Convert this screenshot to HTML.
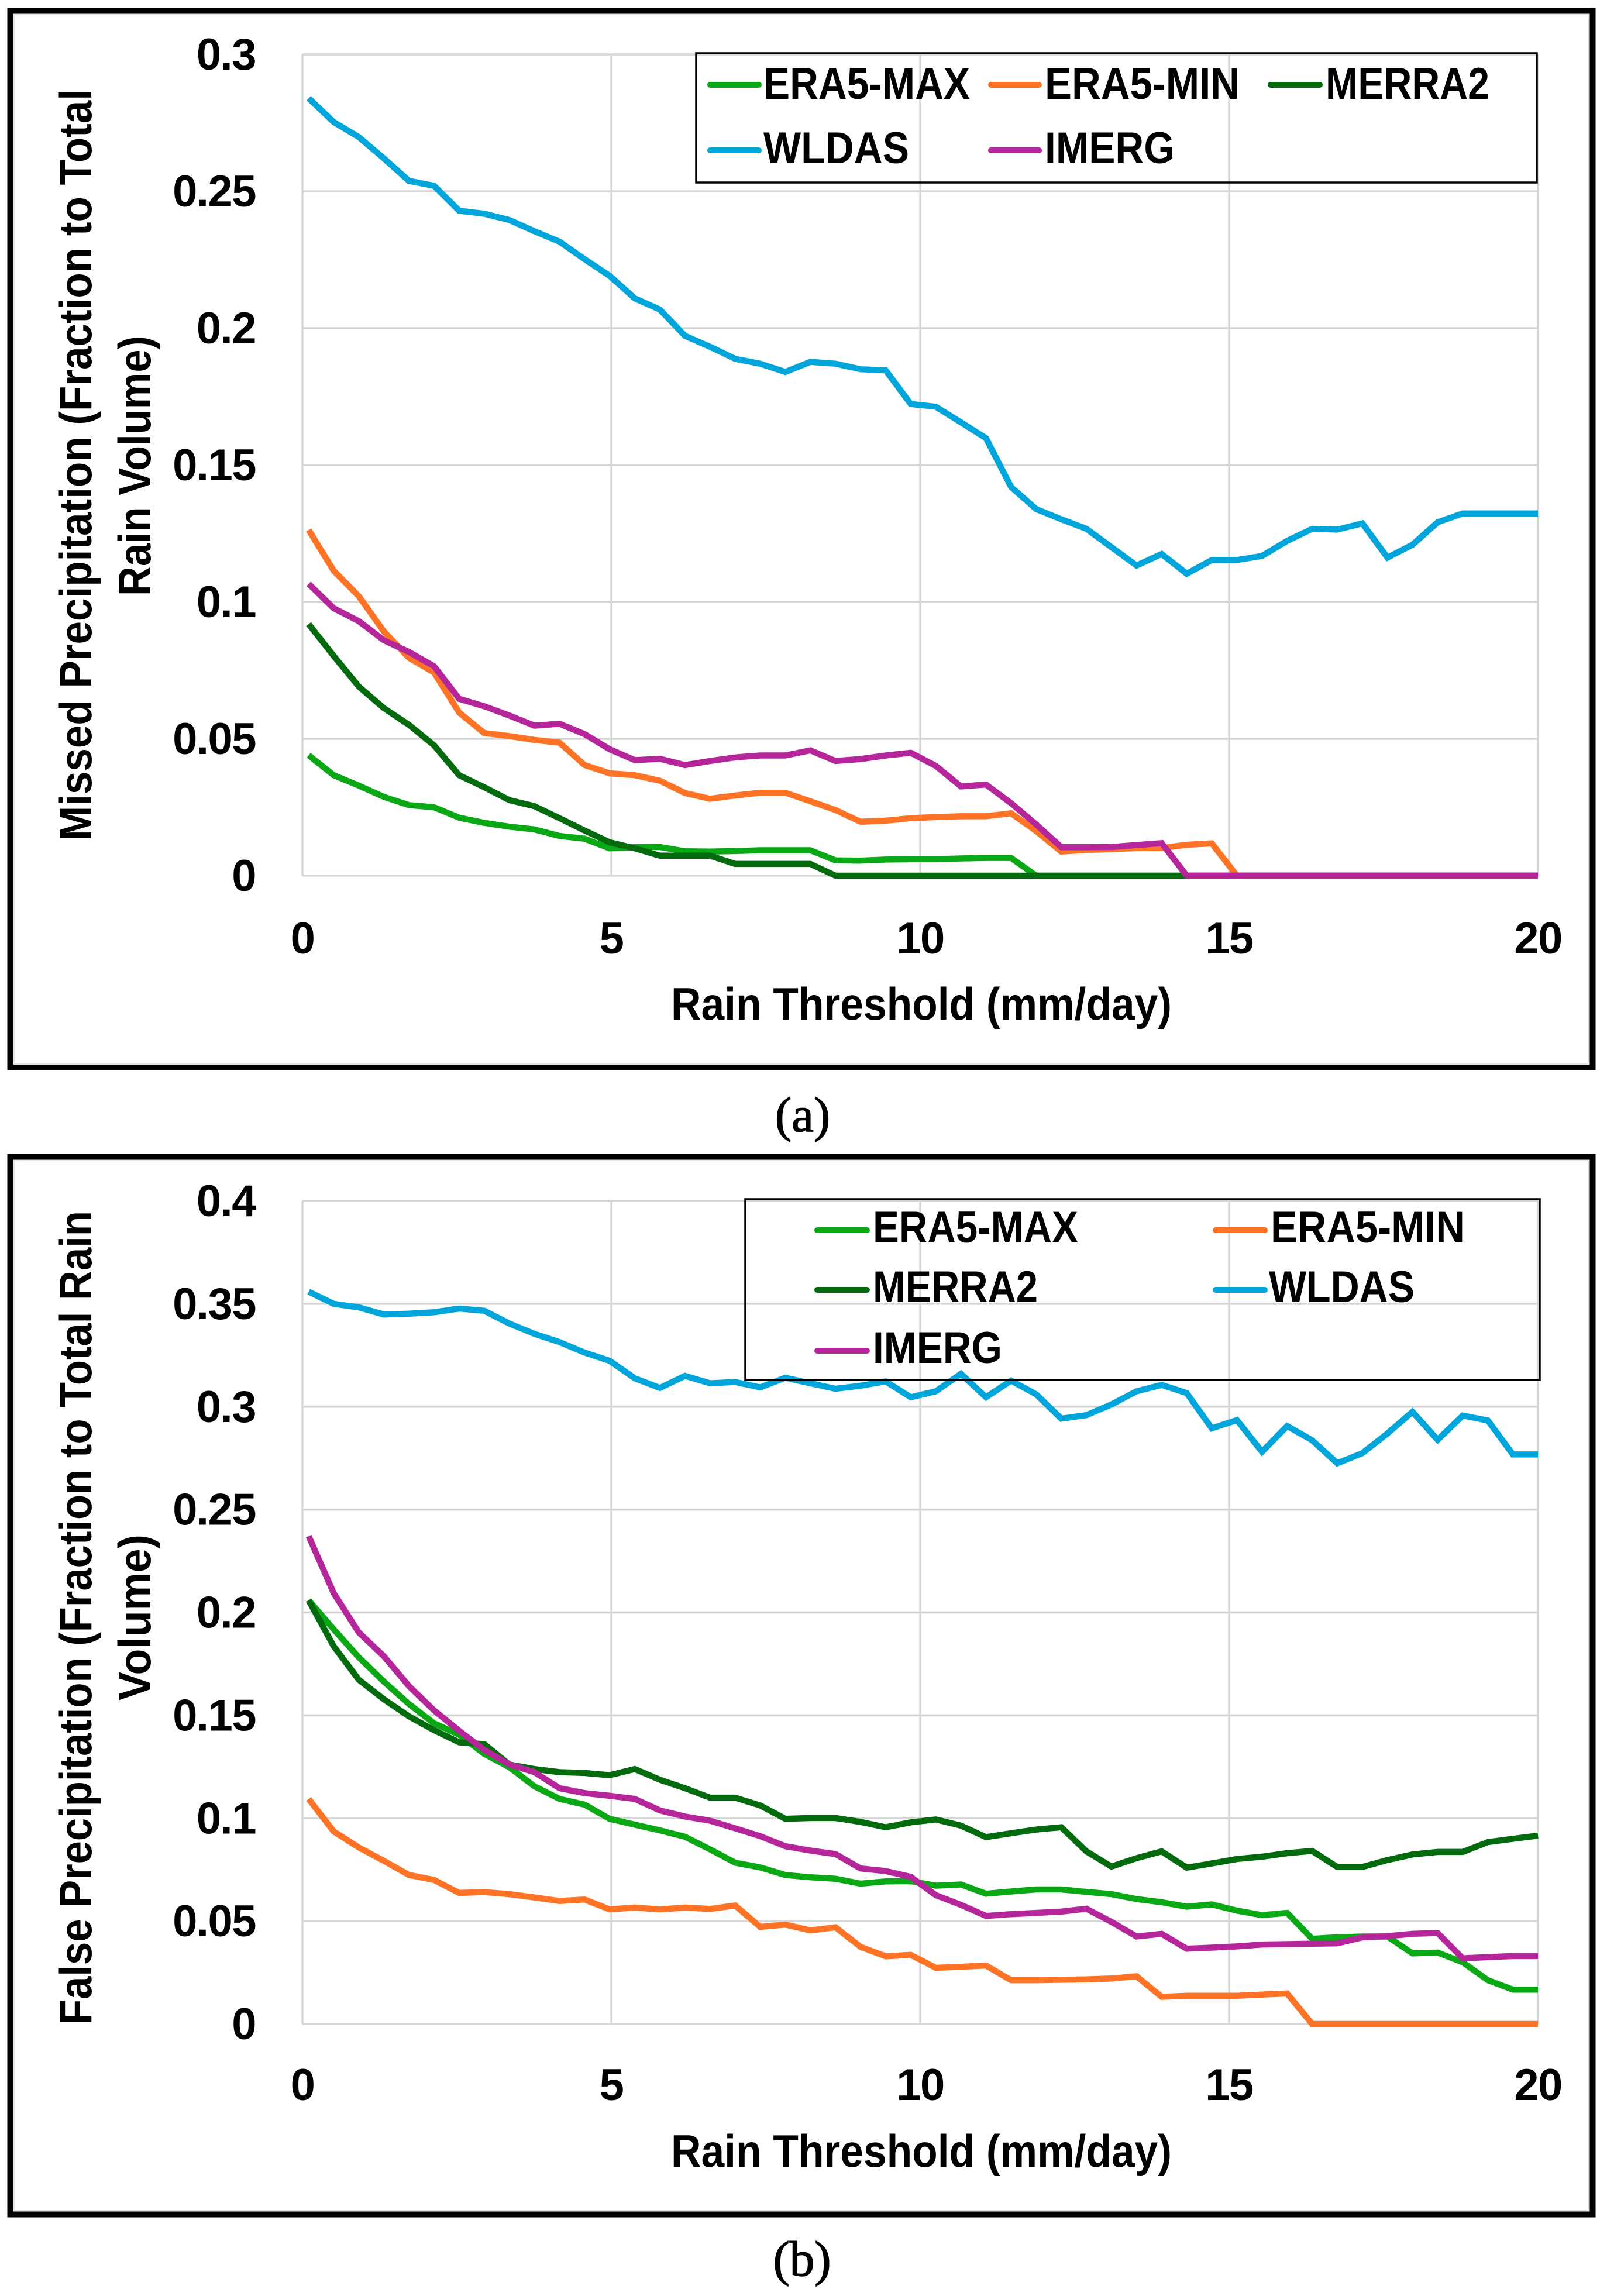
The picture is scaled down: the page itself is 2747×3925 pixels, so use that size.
<!DOCTYPE html>
<html lang="en">
<head>
<meta charset="utf-8">
<title>Missed and False Precipitation vs Rain Threshold</title>
<style>
html,body{margin:0;padding:0;background:#fff;}
svg{display:block;}
text{font-family:"Liberation Sans",sans-serif;font-weight:700;fill:#000;}
.cap{font-family:"Liberation Serif",serif;font-weight:400;font-size:85px;stroke:#000;stroke-width:1.4px;}
.leg{font-size:76px;}
.title{font-size:78px;}
.tick{font-size:76px;letter-spacing:-1.5px;}
</style>
</head>
<body>
<svg id="figure" xmlns="http://www.w3.org/2000/svg" width="2747" height="3925" viewBox="0 0 2747 3925">
  <rect width="2747" height="3925" fill="#fff"/>

  <g id="panel-a">
    <rect x="23.5" y="24.5" width="2693" height="1794" fill="none" stroke="#e4e4e4" stroke-width="3"/>
    <rect x="17.5" y="18.5" width="2705" height="1806.5" fill="none" stroke="#000" stroke-width="10"/>
    <g id="a-grid"></g>
    <g id="a-ticks"></g>
    <text class="title" transform="translate(156,1437) rotate(-90)" textLength="1285" lengthAdjust="spacingAndGlyphs">Missed Precipitation (Fraction to Total</text>
    <text class="title" transform="translate(257,1019) rotate(-90)" textLength="445" lengthAdjust="spacingAndGlyphs">Rain Volume)</text>
    <text class="title" x="1147" y="1743" textLength="856" lengthAdjust="spacingAndGlyphs">Rain Threshold (mm/day)</text>
    <g id="a-series"></g>
    <g>
      <rect x="1190" y="91" width="1437" height="221" fill="none" stroke="#000" stroke-width="3.5"/>
      <g><line x1="1214" y1="145" x2="1297" y2="145" stroke="#0aa814" stroke-width="10" stroke-linecap="round"/><text class="leg" x="1305" y="169" textLength="353" lengthAdjust="spacingAndGlyphs">ERA5-MAX</text></g>
      <g><line x1="1694" y1="145" x2="1776" y2="145" stroke="#ff7327" stroke-width="10" stroke-linecap="round"/><text class="leg" x="1786" y="169" textLength="333" lengthAdjust="spacingAndGlyphs">ERA5-MIN</text></g>
      <g><line x1="2172" y1="145" x2="2256" y2="145" stroke="#046a0e" stroke-width="10" stroke-linecap="round"/><text class="leg" x="2266" y="169" textLength="280" lengthAdjust="spacingAndGlyphs">MERRA2</text></g>
      <g><line x1="1214" y1="257" x2="1297" y2="257" stroke="#00a5dc" stroke-width="10" stroke-linecap="round"/><text class="leg" x="1305" y="279" textLength="249" lengthAdjust="spacingAndGlyphs">WLDAS</text></g>
      <g><line x1="1694" y1="257" x2="1776" y2="257" stroke="#b5269b" stroke-width="10" stroke-linecap="round"/><text class="leg" x="1786" y="279" textLength="222" lengthAdjust="spacingAndGlyphs">IMERG</text></g>
    </g>
  </g>
  <text class="cap" x="1372" y="1934" text-anchor="middle">(a)</text>

  <g id="panel-b">
    <rect x="23.5" y="1983.5" width="2693" height="1796" fill="none" stroke="#e4e4e4" stroke-width="3"/>
    <rect x="17.5" y="1977.5" width="2705" height="1808" fill="none" stroke="#000" stroke-width="10"/>
    <g id="b-grid"></g>
    <g id="b-ticks"></g>
    <text class="title" transform="translate(156,3461) rotate(-90)" textLength="1391" lengthAdjust="spacingAndGlyphs">False Precipitation (Fraction to Total Rain</text>
    <text class="title" transform="translate(257,2907) rotate(-90)" textLength="284" lengthAdjust="spacingAndGlyphs">Volume)</text>
    <text class="title" x="1147" y="3704" textLength="856" lengthAdjust="spacingAndGlyphs">Rain Threshold (mm/day)</text>
    <g id="b-series"></g>
    <g>
      <rect x="1274" y="2050" width="1358" height="309" fill="none" stroke="#000" stroke-width="3.5"/>
      <g><line x1="1397" y1="2103" x2="1482" y2="2103" stroke="#0aa814" stroke-width="10" stroke-linecap="round"/><text class="leg" x="1492" y="2124" textLength="351" lengthAdjust="spacingAndGlyphs">ERA5-MAX</text></g>
      <g><line x1="2078" y1="2103" x2="2162" y2="2103" stroke="#ff7327" stroke-width="10" stroke-linecap="round"/><text class="leg" x="2172" y="2124" textLength="332" lengthAdjust="spacingAndGlyphs">ERA5-MIN</text></g>
      <g><line x1="1397" y1="2205" x2="1482" y2="2205" stroke="#046a0e" stroke-width="10" stroke-linecap="round"/><text class="leg" x="1492" y="2226" textLength="282" lengthAdjust="spacingAndGlyphs">MERRA2</text></g>
      <g><line x1="2078" y1="2205" x2="2162" y2="2205" stroke="#00a5dc" stroke-width="10" stroke-linecap="round"/><text class="leg" x="2169" y="2226" textLength="249" lengthAdjust="spacingAndGlyphs">WLDAS</text></g>
      <g><line x1="1397" y1="2309" x2="1482" y2="2309" stroke="#b5269b" stroke-width="10" stroke-linecap="round"/><text class="leg" x="1492" y="2330" textLength="221" lengthAdjust="spacingAndGlyphs">IMERG</text></g>
    </g>
  </g>
  <text class="cap" x="1371" y="3890" text-anchor="middle">(b)</text>
</svg>

<script>
const thresholds = [0.1,0.506,0.912,1.318,1.724,2.131,2.537,2.943,3.349,3.755,4.161,4.567,4.973,5.38,5.786,6.192,6.598,7.004,7.41,7.816,8.222,8.629,9.035,9.441,9.847,10.253,10.659,11.065,11.471,11.878,12.284,12.69,13.096,13.502,13.908,14.314,14.72,15.127,15.533,15.939,16.345,16.751,17.157,17.563,17.969,18.376,18.782,19.188,19.594,20];

const xTickValues = [0,5,10,15,20];
const aYTickValues = [0,0.05,0.1,0.15,0.2,0.25,0.3];
const bYTickValues = [0,0.05,0.1,0.15,0.2,0.25,0.3,0.35,0.4];

const seriesNames = ['ERA5-MAX','ERA5-MIN','MERRA2','WLDAS','IMERG'];
const seriesColors = ['#0aa814','#ff7327','#046a0e','#00a5dc','#b5269b'];

const aEra5Max = [0.044,0.0367,0.0329,0.0288,0.0258,0.025,0.0212,0.0193,0.0179,0.0169,0.0145,0.0135,0.01,0.0104,0.0105,0.0089,0.0088,0.009,0.0093,0.0093,0.0093,0.0056,0.0055,0.0059,0.006,0.006,0.0063,0.0065,0.0065,0,0,0,0,0,0,0,0,0,0,0,0,0,0,0,0,0,0,0,0,0];
const aEra5Min = [0.1263,0.1114,0.1021,0.0892,0.0796,0.0742,0.0596,0.0521,0.051,0.0496,0.0486,0.0404,0.0374,0.0367,0.0347,0.0302,0.0281,0.0293,0.0303,0.0303,0.0272,0.024,0.0197,0.0201,0.021,0.0214,0.0217,0.0217,0.0228,0.0163,0.0088,0.0094,0.0097,0.0101,0.0101,0.0113,0.0118,0,0,0,0,0,0,0,0,0,0,0,0,0];
const aMerra2 = [0.0919,0.0803,0.0691,0.0612,0.0551,0.0476,0.0367,0.0323,0.0276,0.0254,0.021,0.0165,0.0122,0.01,0.0073,0.0073,0.0073,0.0043,0.0043,0.0043,0.0043,0,0,0,0,0,0,0,0,0,0,0,0,0,0,0,0,0,0,0,0,0,0,0,0,0,0,0,0,0];
const aWldas = [0.284,0.2753,0.2698,0.262,0.2538,0.252,0.2429,0.2418,0.2395,0.2354,0.2316,0.2252,0.2191,0.2109,0.2068,0.1972,0.1932,0.1888,0.187,0.184,0.1877,0.187,0.185,0.1846,0.1723,0.1713,0.1656,0.1598,0.142,0.1339,0.1302,0.1267,0.12,0.1133,0.1175,0.1103,0.1153,0.1153,0.1168,0.1223,0.1267,0.1264,0.1287,0.1162,0.1209,0.1291,0.1323,0.1323,0.1323,0.1323];
const aImerg = [0.1066,0.0977,0.093,0.086,0.0817,0.0765,0.0646,0.0619,0.0585,0.0548,0.0555,0.0517,0.0462,0.0422,0.0427,0.0404,0.0419,0.0432,0.0439,0.0439,0.0458,0.0419,0.0426,0.0439,0.0449,0.0401,0.0326,0.0333,0.0265,0.0187,0.0104,0.0104,0.0105,0.0112,0.0119,0,0,0,0,0,0,0,0,0,0,0,0,0,0,0];

const bEra5Max = [0.2059,0.1918,0.1782,0.1664,0.1555,0.1461,0.1406,0.1313,0.1248,0.1155,0.1094,0.1066,0.0997,0.0969,0.0941,0.091,0.0849,0.0784,0.0761,0.0724,0.0713,0.0706,0.0682,0.0693,0.0694,0.0672,0.0678,0.0633,0.0644,0.0654,0.0654,0.0642,0.0631,0.0607,0.0592,0.057,0.0581,0.0551,0.0529,0.054,0.0414,0.0421,0.0425,0.0425,0.0343,0.0347,0.03,0.0213,0.0167,0.0167];
const bEra5Min = [0.1094,0.0936,0.0858,0.0793,0.0724,0.07,0.0637,0.0641,0.0631,0.0615,0.0598,0.0605,0.0557,0.0566,0.0557,0.0566,0.0559,0.0576,0.0472,0.0483,0.0455,0.047,0.0375,0.0329,0.0336,0.0273,0.0278,0.0284,0.0213,0.0213,0.0215,0.0217,0.0221,0.0232,0.0132,0.0137,0.0137,0.0137,0.0143,0.0148,0,0,0,0,0,0,0,0,0,0];
const bMerra2 = [0.2059,0.1836,0.1673,0.1578,0.1495,0.1428,0.1369,0.136,0.1261,0.1239,0.1224,0.122,0.1209,0.1239,0.1187,0.1146,0.11,0.11,0.1062,0.0997,0.1001,0.1001,0.0982,0.0956,0.098,0.0994,0.0964,0.0908,0.0927,0.0945,0.0956,0.0839,0.0765,0.0806,0.0839,0.076,0.078,0.0802,0.0813,0.083,0.0841,0.0763,0.0763,0.0797,0.0824,0.0836,0.0836,0.0884,0.09,0.0915];
const bWldas = [0.3559,0.35,0.3483,0.3448,0.3452,0.3459,0.3477,0.3466,0.3404,0.3354,0.3314,0.3263,0.3223,0.3138,0.3091,0.315,0.3114,0.312,0.3094,0.3141,0.3114,0.3087,0.3102,0.3123,0.3046,0.3075,0.316,0.3046,0.3127,0.306,0.2942,0.2959,0.3011,0.3075,0.3106,0.3066,0.2895,0.2935,0.2781,0.2906,0.2837,0.2725,0.2774,0.287,0.2975,0.2839,0.2957,0.2933,0.2768,0.2768];
const bImerg = [0.2371,0.2094,0.1903,0.1787,0.1642,0.1524,0.1425,0.1332,0.1261,0.1224,0.1146,0.1122,0.1109,0.1094,0.1038,0.1008,0.0988,0.0951,0.0913,0.0864,0.0843,0.0826,0.0756,0.0743,0.0715,0.0626,0.0579,0.0525,0.0534,0.054,0.0546,0.056,0.0496,0.0425,0.0438,0.0366,0.0371,0.0377,0.0386,0.0388,0.039,0.0392,0.0421,0.0427,0.0438,0.0442,0.0319,0.0325,0.033,0.033];

const NS = 'http://www.w3.org/2000/svg';

function xScale(v) { return 517 + v * (2629 - 517) / 20; }
function aY(v) { return 1497 - v * (1497 - 93) / 0.3; }
function bY(v) { return 3460 - v * (3460 - 2053) / 0.4; }

function drawAxes(prefix, yScale, yTicks, xLabelBaseline) {
  const grid = document.getElementById(prefix + '-grid');
  const ticks = document.getElementById(prefix + '-ticks');
  const top = yScale(yTicks[yTicks.length - 1]);
  const bottom = yScale(0);
  yTicks.forEach(function (t) {
    const ln = document.createElementNS(NS, 'line');
    
    
    ln.setAttribute('x1', xScale(0));
    ln.setAttribute('x2', xScale(20));
    ln.setAttribute('y1', yScale(t));
    ln.setAttribute('y2', yScale(t));
    ln.setAttribute('stroke', '#d6d6d6');
    ln.setAttribute('stroke-width', '3.5');
    grid.appendChild(ln);
    const tx = document.createElementNS(NS, 'text');
    
    
    tx.setAttribute('class', 'tick');
    tx.setAttribute('x', 437);
    tx.setAttribute('y', yScale(t) + 26);
    tx.setAttribute('text-anchor', 'end');
    tx.textContent = String(t);
    ticks.appendChild(tx);
  });
  xTickValues.forEach(function (t) {
    const ln = document.createElementNS(NS, 'line');
    
    
    ln.setAttribute('x1', xScale(t));
    ln.setAttribute('x2', xScale(t));
    ln.setAttribute('y1', top);
    ln.setAttribute('y2', bottom);
    ln.setAttribute('stroke', '#d6d6d6');
    ln.setAttribute('stroke-width', '3.5');
    grid.appendChild(ln);
    const tx = document.createElementNS(NS, 'text');
    
    
    tx.setAttribute('class', 'tick');
    tx.setAttribute('x', xScale(t));
    tx.setAttribute('y', xLabelBaseline);
    tx.setAttribute('text-anchor', 'middle');
    tx.textContent = String(t);
    ticks.appendChild(tx);
  });
}

function drawSeries(prefix, yScale, allSeries) {
  const holder = document.getElementById(prefix + '-series');
  allSeries.forEach(function (values, i) {
    const pts = values.map(function (v, k) {
      return xScale(thresholds[k]).toFixed(1) + ',' + yScale(v).toFixed(1);
    }).join(' ');
    const pl = document.createElementNS(NS, 'polyline');
    
    
    pl.setAttribute('points', pts);
    pl.setAttribute('fill', 'none');
    pl.setAttribute('stroke', seriesColors[i]);
    pl.setAttribute('stroke-width', '10.5');
    pl.setAttribute('stroke-linejoin', 'miter');
    pl.setAttribute('stroke-linecap', 'butt');
    holder.appendChild(pl);
  });
}

drawAxes('a', aY, aYTickValues, 1630);
drawAxes('b', bY, bYTickValues, 3590);
drawSeries('a', aY, [aEra5Max, aEra5Min, aMerra2, aWldas, aImerg]);
drawSeries('b', bY, [bEra5Max, bEra5Min, bMerra2, bWldas, bImerg]);
</script>
</body>
</html>
